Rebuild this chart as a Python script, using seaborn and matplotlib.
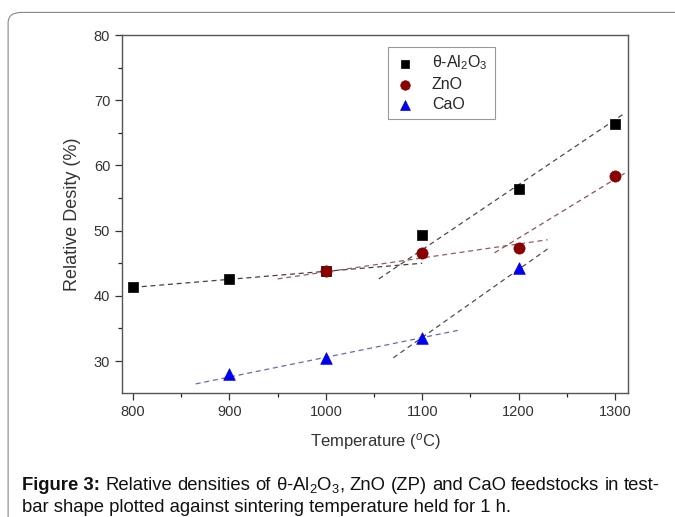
import numpy as np
import pandas as pd
import seaborn as sns
import matplotlib.pyplot as plt
from matplotlib.patches import FancyBboxPatch
from matplotlib.transforms import offset_copy

# measured points
temp_al = [800, 900, 1000, 1100, 1200, 1300]
dens_al = [41.4, 42.6, 43.8, 49.4, 56.4, 66.4]
temp_zno = [1000, 1100, 1200, 1300]
dens_zno = [43.8, 46.6, 47.4, 58.4]
temp_cao = [900, 1000, 1100, 1200]
dens_cao = [28.0, 30.5, 33.5, 44.3]

# dashed fit segments (end points)
fit_al_low_x = [800, 1100]
fit_al_low_y = [41.3, 45.0]
fit_al_high_x = [1055, 1310]
fit_al_high_y = [42.6, 68.0]
fit_zno_low_x = [950, 1230]
fit_zno_low_y = [42.6, 48.6]
fit_zno_high_x = [1175, 1310]
fit_zno_high_y = [46.6, 58.8]
fit_cao_low_x = [865, 1140]
fit_cao_low_y = [26.5, 34.8]
fit_cao_high_x = [1070, 1233]
fit_cao_high_y = [30.5, 47.5]

caption_words = ['Relative', 'densities', 'of', 'θ-Al$_2$O$_3$,', 'ZnO', '(ZP)', 'and',
                 'CaO', 'feedstocks', 'in', 'test-']
caption_line2 = 'bar shape plotted against sintering temperature held for 1 h.'

sns.set_style("ticks")
plt.rcParams['font.family'] = ['Liberation Sans', 'DejaVu Sans']
plt.rcParams['mathtext.fontset'] = 'custom'
plt.rcParams['mathtext.rm'] = 'Liberation Sans'
plt.rcParams['mathtext.it'] = 'Liberation Sans:italic'
plt.rcParams['mathtext.bf'] = 'Liberation Sans:bold'

fig = plt.figure(figsize=(6.75, 5.17), dpi=100)
ax = fig.add_axes([0.1807, 0.2398, 0.7497, 0.6925])

# frame around whole figure
fig.patches.append(FancyBboxPatch((0.012, -0.05), 1.05, 1.026, boxstyle="round,pad=0,rounding_size=0.02",
                                  transform=fig.transFigure, fill=False, edgecolor='#888888', linewidth=0.8))

fits = [
    (fit_al_low_x, fit_al_low_y, '#4a4040'),
    (fit_al_high_x, fit_al_high_y, '#5a4545'),
    (fit_zno_low_x, fit_zno_low_y, '#8a6060'),
    (fit_zno_high_x, fit_zno_high_y, '#8a5555'),
    (fit_cao_low_x, fit_cao_low_y, '#6a6aaa'),
    (fit_cao_high_x, fit_cao_high_y, '#5a4a4a'),
]
for fx, fy, c in fits:
    sns.lineplot(x=fx, y=fy, ax=ax, color=c, linestyle=(0, (4, 3)), linewidth=0.9)

sns.scatterplot(x=temp_al, y=dens_al, ax=ax, marker='s', s=55, color='black',
                edgecolor='black', linewidth=0.5, label='θ-Al$_2$O$_3$', zorder=3)
sns.scatterplot(x=temp_zno, y=dens_zno, ax=ax, marker='o', s=65, color='#8b0000',
                edgecolor='#8b0000', linewidth=0.5, label='ZnO', zorder=4)
sns.scatterplot(x=temp_cao, y=dens_cao, ax=ax, marker='^', s=70, color='#0000ee',
                edgecolor='#0000ee', linewidth=0.5, label='CaO', zorder=4)

ax.set_xlim(788.5, 1313.5)
ax.set_ylim(25.1, 80)
ax.set_xticks([800, 900, 1000, 1100, 1200, 1300])
ax.set_xticks(np.arange(850, 1300, 100), minor=True)
ax.set_yticks([30, 40, 50, 60, 70, 80])
ax.set_yticks(np.arange(35, 80, 10), minor=True)
ax.tick_params(axis='both', which='major', direction='out', length=5, width=0.9,
               labelsize=10.5, colors='#333333')
ax.tick_params(axis='both', which='minor', direction='out', length=3, width=0.9)
for sp in ax.spines.values():
    sp.set_visible(True)
    sp.set_color('#555555')
    sp.set_linewidth(1.0)

ax.set_xlabel('Temperature ($^{o}$C)', fontsize=12, color='#333333', labelpad=9)
ax.set_ylabel('Relative Desity (%)', fontsize=13, color='#333333', labelpad=9)

leg = ax.legend(loc='upper left', bbox_to_anchor=(0.51, 0.99), fontsize=11.5,
                frameon=True, fancybox=False, edgecolor='#999999', framealpha=1,
                handlelength=1.2, handletextpad=1.1, borderpad=0.45, labelspacing=0.3,
                markerscale=0.85)
leg.get_frame().set_linewidth(0.8)

# justified first caption line
cap_fs = 13.3
x0_px, x1_px = 22, 660
y1 = 0.052
fig.canvas.draw()
r = fig.canvas.get_renderer()
head = fig.text(0, y1, 'Figure 3:', fontsize=cap_fs, fontweight='bold', color='#111111')
word_txt = [fig.text(0, y1, w_, fontsize=cap_fs, color='#111111') for w_ in caption_words]
widths = [t.get_window_extent(r).width for t in [head] + word_txt]
gap = (x1_px - x0_px - sum(widths)) / (len(widths) - 1)
x = x0_px
for t, wd in zip([head] + word_txt, widths):
    t.set_x(x / fig.bbox.width)
    x += wd + gap
fig.text(x0_px / fig.bbox.width, 0.010, caption_line2, fontsize=cap_fs, color='#111111')

fig.savefig('out.png', dpi=100)
